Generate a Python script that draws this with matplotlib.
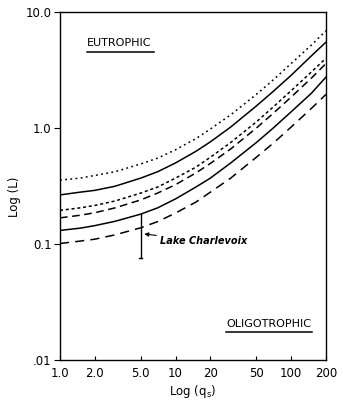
import matplotlib
matplotlib.use("Agg")
import matplotlib.pyplot as plt
from matplotlib.ticker import FixedLocator, NullLocator

qs = [1, 1.5, 2, 3, 5, 7, 10, 15, 20, 30, 50, 70, 100, 150, 200]
dotted_top = [0.355, 0.37, 0.39, 0.42, 0.49, 0.55, 0.65, 0.81, 0.98, 1.3, 1.95, 2.6, 3.6, 5.2, 6.9]
solid_top = [0.265, 0.28, 0.29, 0.315, 0.37, 0.42, 0.5, 0.63, 0.76, 1.02, 1.55, 2.07, 2.85, 4.2, 5.5]
dotted_mid = [0.195, 0.205, 0.215, 0.235, 0.275, 0.31, 0.37, 0.46, 0.56, 0.75, 1.13, 1.52, 2.1, 3.05, 4.0]
dashed_mid = [0.168, 0.177, 0.186, 0.205, 0.24, 0.275, 0.325, 0.41, 0.495, 0.66, 1.0, 1.34, 1.85, 2.7, 3.6]
solid_low = [0.131, 0.137, 0.144, 0.157, 0.181, 0.205, 0.245, 0.31, 0.37, 0.5, 0.75, 1.0, 1.38, 2.0, 2.75]
dashed_low = [0.101, 0.106, 0.11, 0.12, 0.138, 0.156, 0.185, 0.23, 0.28, 0.37, 0.56, 0.74, 1.02, 1.48, 1.95]

charlevoix_qs = 5.0
charlevoix_range = [0.075, 0.181]

x_ticks = [1, 2, 5, 10, 20, 50, 100, 200]
x_labels = ["1.0", "2.0", "5.0", "10", "20", "50", "100", "200"]
y_ticks = [0.01, 0.1, 1, 10]
y_labels = [".01", "0.1", "1.0", "10.0"]

fig = plt.figure(figsize=(3.43, 4.05), dpi=100)
ax = fig.add_axes([60/343, 45/405, 266/343, 348/405])
ax.set_xscale("log")
ax.set_yscale("log")
ax.set_xlim(1, 200)
ax.set_ylim(0.01, 10)

lw = 1.1
ax.plot(qs, dotted_top, color="black", lw=lw, dashes=(1.2, 2.2))
ax.plot(qs, solid_top, color="black", lw=lw)
ax.plot(qs, dotted_mid, color="black", lw=lw, dashes=(2.0, 1.8))
ax.plot(qs, dashed_mid, color="black", lw=lw, dashes=(5, 3))
ax.plot(qs, solid_low, color="black", lw=lw)
ax.plot(qs, dashed_low, color="black", lw=lw, dashes=(6, 4))

ax.plot([charlevoix_qs, charlevoix_qs], charlevoix_range, color="black", lw=1.0)
ax.plot([charlevoix_qs * 0.97, charlevoix_qs * 1.03], [charlevoix_range[0]] * 2, color="black", lw=1.0)
ax.annotate("Lake Charlevoix", xy=(5.35, 0.122), xytext=(7.4, 0.106),
            fontsize=7, style="italic", weight="bold", va="center", ha="left",
            arrowprops=dict(arrowstyle="-|>", color="black", lw=0.8, mutation_scale=6,
                            shrinkA=1, shrinkB=0))

ax.text(1.71, 5.4, "EUTROPHIC", fontsize=8, ha="left", va="center")
ax.plot([1.71, 6.5], [4.5, 4.5], color="black", lw=1.1)
ax.text(27.5, 0.0205, "OLIGOTROPHIC", fontsize=8, ha="left", va="center")
ax.plot([27.5, 150], [0.0174, 0.0174], color="black", lw=1.1)

ax.xaxis.set_major_locator(FixedLocator(x_ticks))
ax.xaxis.set_minor_locator(NullLocator())
ax.set_xticklabels(x_labels, fontsize=8.5)
ax.yaxis.set_major_locator(FixedLocator(y_ticks))
ax.yaxis.set_minor_locator(NullLocator())
ax.set_yticklabels(y_labels, fontsize=8.5)
ax.tick_params(axis="x", direction="in", length=3, pad=5)
ax.tick_params(axis="y", direction="out", length=4, pad=2)

ax.set_xlabel("Log (q$_\\mathrm{s}$)", fontsize=8.5, labelpad=2)
ax.set_ylabel("Log (L)", fontsize=8.5, labelpad=2)
ax.yaxis.set_label_coords(-0.145, 0.47)
for s in ax.spines.values():
    s.set_linewidth(1.0)

fig.savefig("out.png", dpi=100)
